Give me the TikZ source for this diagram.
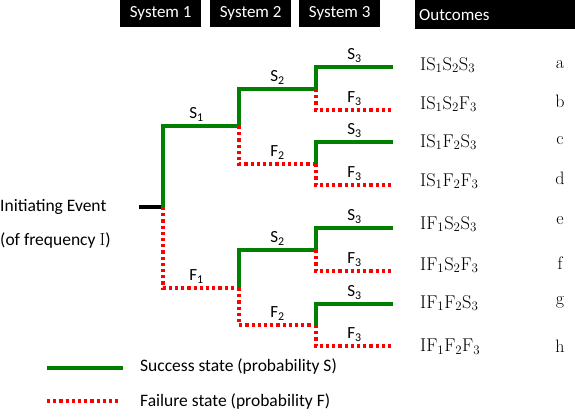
\documentclass[tikz,border=0pt]{standalone}
\usepackage{fontspec}
\setsansfont{Carlito}
\begin{document}
\begin{tikzpicture}[x=1pt,y=-1pt,
  succ/.style={green!50!black,line width=3.2pt},
  fail/.style={red,line width=3.2pt,dash pattern=on 3.2pt off 3pt},
  lbl/.style={text=black,font=\sffamily\fontsize{17}{19}\selectfont,above,inner sep=3pt},
  hdr/.style={fill=black,text=white,font=\sffamily\fontsize{17}{19}\selectfont,
    anchor=north west,minimum height=27pt,inner sep=0pt},
  txt/.style={anchor=west,font=\sffamily\fontsize{17.5}{19}\selectfont,inner sep=0pt},
  outc/.style={anchor=west,font=\fontsize{18.5}{20}\selectfont,inner sep=0pt},
  tag/.style={font=\fontsize{18}{20}\selectfont,inner sep=0pt}]
\useasboundingbox (0,0) rectangle (575,416);
% headers
\node[hdr,minimum width=81pt] (sys1) at (120,0) {System 1};
\node[hdr,minimum width=81pt] (sys2) at (210,0) {System 2};
\node[hdr,minimum width=81pt] (sys3) at (299,0) {System 3};
\node[hdr,minimum width=160pt,minimum height=29pt,text width=152pt,align=left] (out) at (415,0) {Outcomes};
% initiating event
\node[txt] (ietxt) at (0,207) {Initiating Event};
\node[txt] (freq) at (0,241) {(of frequency $\mathrm{I}$)};
\coordinate (ie0) at (139,207);
\coordinate (ie) at (163,207);
% branch points
\coordinate (s1) at (239,126); \coordinate (f1) at (239,288);
\coordinate (s1s2) at (316,89); \coordinate (s1f2) at (316,164);
\coordinate (f1s2) at (316,250); \coordinate (f1f2) at (316,325);
% ends
\coordinate (ea) at (393,67); \coordinate (eb) at (393,110);
\coordinate (ec) at (393,142); \coordinate (ed) at (393,185);
\coordinate (ee) at (393,228); \coordinate (ef) at (393,271);
\coordinate (eg) at (393,304); \coordinate (eh) at (393,346);
\draw[line width=3.2pt] (ie0) -- (ie);
% system 1
\draw[succ] (ie) |- node[lbl,pos=0.72]{S\textsubscript{1}} (s1);
\draw[fail] (ie) |- node[lbl,pos=0.72]{F\textsubscript{1}} (f1);
% system 2
\draw[succ] (s1) |- node[lbl,pos=0.75]{S\textsubscript{2}} (s1s2);
\draw[fail] (s1) |- node[lbl,pos=0.75]{F\textsubscript{2}} (s1f2);
\draw[succ] (f1) |- node[lbl,pos=0.75]{S\textsubscript{2}} (f1s2);
\draw[fail] (f1) |- node[lbl,pos=0.75]{F\textsubscript{2}} (f1f2);
% system 3
\foreach \p/\s/\f in {s1s2/ea/eb,s1f2/ec/ed,f1s2/ee/ef,f1f2/eg/eh}{
  \draw[succ] (\p) |- node[lbl,pos=0.75]{S\textsubscript{3}} (\s);
  \draw[fail] (\p) |- node[lbl,pos=0.75]{F\textsubscript{3}} (\f);
}
% outcomes
\node[outc] (oa) at (420,65) {$\mathrm{IS_1S_2S_3}$};
\node[outc] (ob) at (420,104) {$\mathrm{IS_1S_2F_3}$};
\node[outc] (oc) at (420,142) {$\mathrm{IS_1F_2S_3}$};
\node[outc] (od) at (420,181) {$\mathrm{IS_1F_2F_3}$};
\node[outc] (oe) at (420,224) {$\mathrm{IF_1S_2S_3}$};
\node[outc] (of) at (420,265) {$\mathrm{IF_1S_2F_3}$};
\node[outc] (og) at (420,303) {$\mathrm{IF_1F_2S_3}$};
\node[outc] (oh) at (420,347) {$\mathrm{IF_1F_2F_3}$};
\node[tag] (ta) at (560,65) {a};
\node[tag] (tb) at (560,101) {b};
\node[tag] (tc) at (560,141) {c};
\node[tag] (td) at (560,178) {d};
\node[tag] (te) at (560,221) {e};
\node[tag] (tf) at (560,263) {f};
\node[tag] (tg) at (560,302) {g};
\node[tag] (th) at (560,346) {h};
% legend
\coordinate (lg0) at (47,368); \coordinate (lg1) at (123,368);
\coordinate (lr0) at (47,401); \coordinate (lr1) at (121,401);
\draw[succ] (lg0) -- (lg1);
\draw[fail] (lr0) -- (lr1);
\node[txt] (lsucc) at (140,367) {Success state (probability S)};
\node[txt] (lfail) at (140,401) {Failure state (probability F)};
\end{tikzpicture}
\end{document}
